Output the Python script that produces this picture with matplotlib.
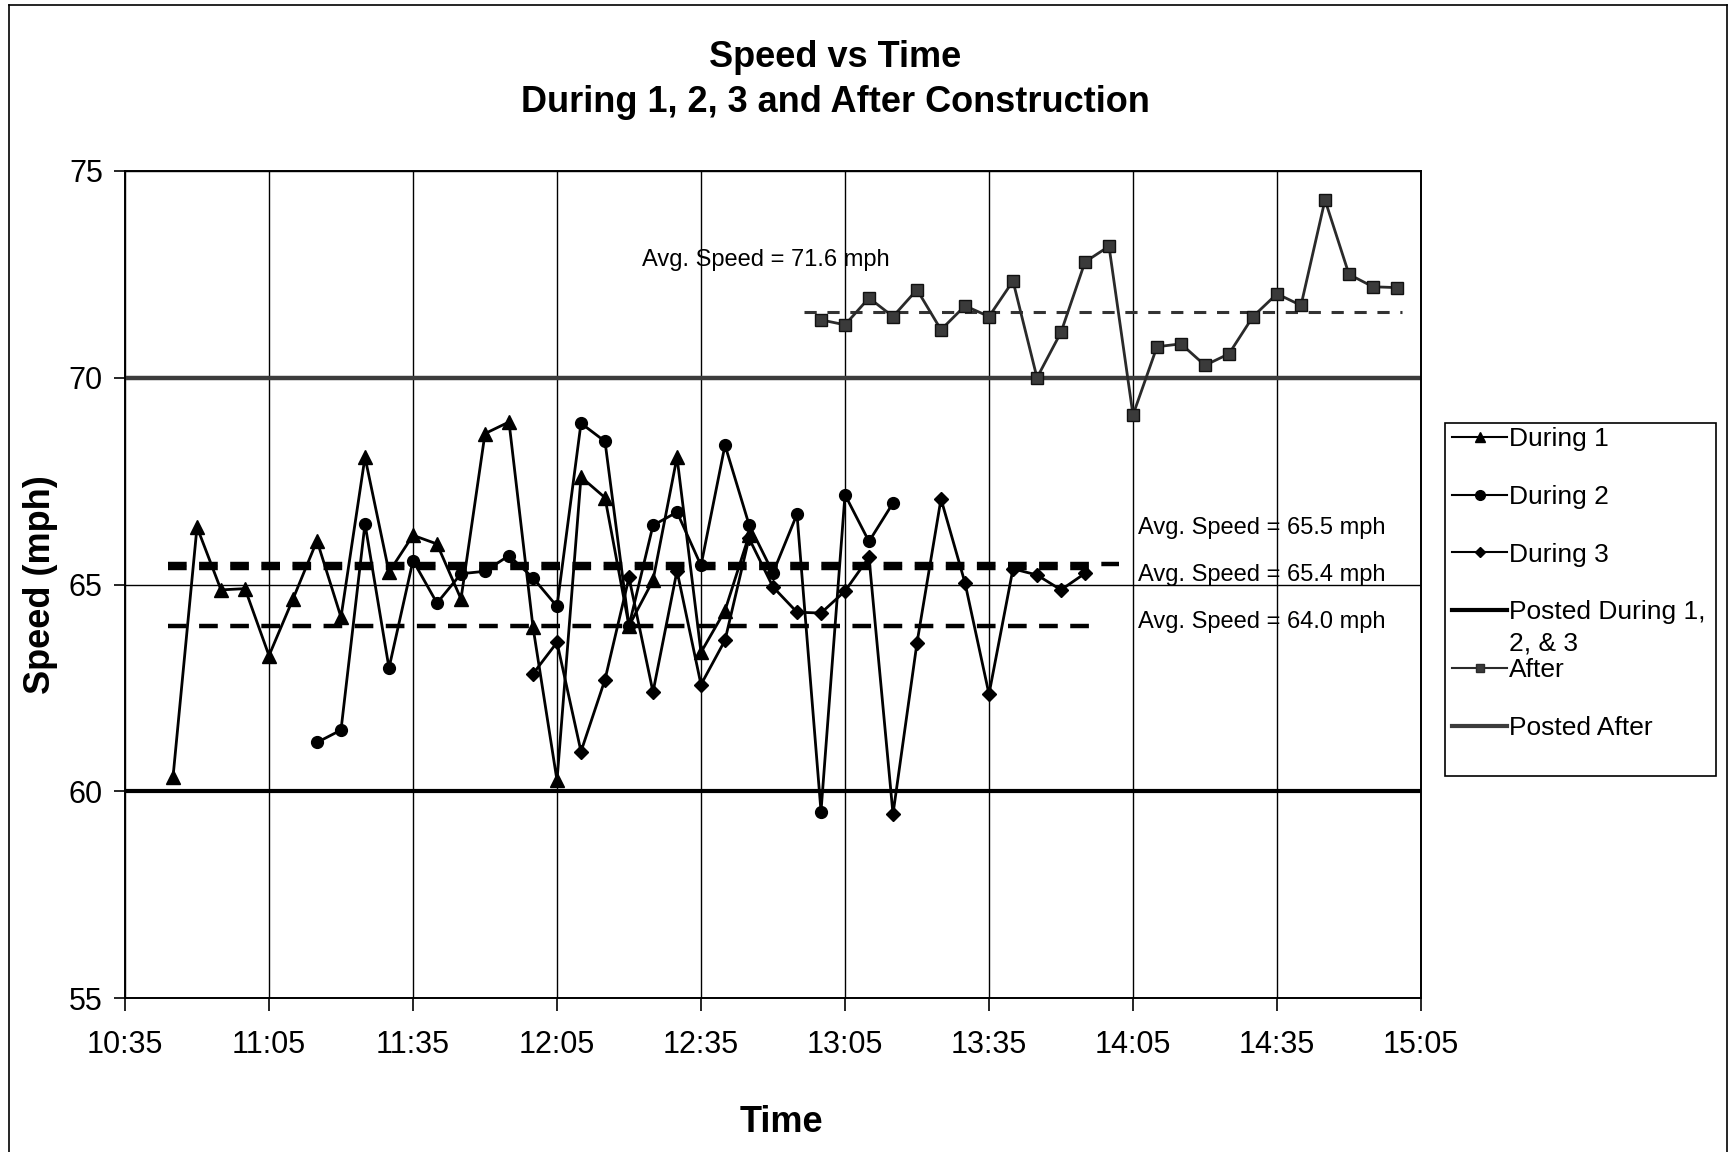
import numpy as np
import matplotlib
matplotlib.use('Agg')
import matplotlib.pyplot as plt
from matplotlib.lines import Line2D
from matplotlib.patches import Rectangle
from matplotlib.ticker import FuncFormatter

plt.rcParams['font.family'] = ['Liberation Sans', 'DejaVu Sans']
plt.rcParams['axes.linewidth'] = 1.4

# speed readings (mph) by time of day
during1_time = ['10:45', '10:50', '10:55', '11:00', '11:05', '11:10', '11:15', '11:20',
                '11:25', '11:30', '11:35', '11:40', '11:45', '11:50', '11:55', '12:00',
                '12:05', '12:10', '12:15', '12:20', '12:25', '12:30', '12:35', '12:40',
                '12:45']
during1_speed = [60.34, 66.39, 64.87, 64.90, 63.28, 64.65, 66.06, 64.21,
                 68.08, 65.30, 66.19, 65.98, 64.65, 68.65, 68.93, 63.97,
                 60.26, 67.60, 67.10, 64.00, 65.10, 68.08, 63.36, 64.37,
                 66.19]

during2_time = ['11:15', '11:20', '11:25', '11:30', '11:35', '11:40', '11:45', '11:50',
                '11:55', '12:00', '12:05', '12:10', '12:15', '12:20', '12:25', '12:30',
                '12:35', '12:40', '12:45', '12:50', '12:55', '13:00', '13:05', '13:10',
                '13:15']
during2_speed = [61.18, 61.48, 66.47, 62.98, 65.58, 64.55, 65.26, 65.32,
                 65.70, 65.16, 64.47, 68.90, 68.46, 64.00, 66.43, 66.75,
                 65.46, 68.37, 66.45, 65.28, 66.70, 59.51, 67.17, 66.04,
                 66.97]

during3_time = ['12:00', '12:05', '12:10', '12:15', '12:20', '12:25', '12:30', '12:35',
                '12:40', '12:45', '12:50', '12:55', '13:00', '13:05', '13:10', '13:15',
                '13:20', '13:25', '13:30', '13:35', '13:40', '13:45', '13:50', '13:55']
during3_speed = [62.84, 63.60, 60.96, 62.70, 65.17, 62.40, 65.33, 62.58,
                 63.65, 66.12, 64.94, 64.33, 64.31, 64.84, 65.66, 59.45,
                 63.59, 67.07, 65.04, 62.35, 65.38, 65.23, 64.87, 65.27]

after_time = ['13:00', '13:05', '13:10', '13:15', '13:20', '13:25', '13:30', '13:35',
              '13:40', '13:45', '13:50', '13:55', '14:00', '14:05', '14:10', '14:15',
              '14:20', '14:25', '14:30', '14:35', '14:40', '14:45', '14:50', '14:55',
              '15:00']
after_speed = [71.40, 71.28, 71.93, 71.48, 72.13, 71.16, 71.74, 71.48,
               72.34, 70.00, 71.10, 72.80, 73.18, 69.10, 70.75, 70.82,
               70.30, 70.58, 71.48, 72.03, 71.75, 74.30, 72.50, 72.20,
               72.18]

posted_during = 60
posted_after = 70
avg_during1 = 65.5
avg_during2 = 65.4
avg_during3 = 64.0
avg_after = 71.6


def to_min(s):
    h, m = s.split(':')
    return int(h) * 60 + int(m)


def fmt_time(x, pos):
    x = int(round(x))
    return '%d:%02d' % (x // 60, x % 60)


W, H = 1730, 1152
fig = plt.figure(figsize=(W / 100, H / 100), dpi=100)
ax = fig.add_axes([125 / W, 1 - 998 / H, 1296 / W, 827 / H])

t0, t1 = to_min('10:35'), to_min('15:05')
ax.set_xlim(t0, t1)
ax.set_ylim(55, 75)
ax.set_xticks(np.arange(t0, t1 + 1, 30))
ax.set_yticks([55, 60, 65, 70, 75])
ax.xaxis.set_major_formatter(FuncFormatter(fmt_time))
ax.tick_params(axis='x', direction='out', length=9, width=1.2, pad=14, labelsize=22)
ax.tick_params(axis='y', direction='out', length=8, width=1.2, pad=8, labelsize=22)
ax.grid(True, color='black', linewidth=1.0, zorder=0)
ax.set_axisbelow(True)

# posted limits
ax.axhline(posted_during, color='black', lw=3.0, zorder=2)
ax.axhline(posted_after, color='#3c3c3c', lw=3.2, zorder=2)

# average lines
dash_thick = (0, (4.2, 2.8))
ax.hlines(avg_during1, to_min('10:44'), to_min('14:02'), colors='black', lw=3.2,
          linestyles=[dash_thick], zorder=3)
ax.hlines(avg_during2, to_min('10:44'), to_min('13:58'), colors='black', lw=3.2,
          linestyles=[dash_thick], zorder=3)
ax.hlines(avg_during3, to_min('10:44'), to_min('13:58'), colors='black', lw=3.2,
          linestyles=[dash_thick], zorder=3)
ax.hlines(avg_after, to_min('12:56') + 0.5, to_min('15:01'), colors='#333333', lw=2.2,
          linestyles=[(0, (4, 3.5))], zorder=3)

# speed series
kw = dict(color='black', lw=2.0, zorder=4)
ax.plot([to_min(t) for t in during1_time], during1_speed, marker='^', ms=10.5, **kw)
ax.plot([to_min(t) for t in during2_time], during2_speed, marker='o', ms=8.5, **kw)
ax.plot([to_min(t) for t in during3_time], during3_speed, marker='D', ms=7, **kw)
ax.plot([to_min(t) for t in after_time], after_speed, color='#2a2a2a', lw=2.0,
        marker='s', ms=8, mfc='#3a3a3a', mec='#111111', zorder=4)

# average labels
ax.text(to_min('12:22') + 0.7, 72.85, 'Avg. Speed = %.1f mph' % avg_after,
        fontsize=17, va='center', ha='left')
ax.text(to_min('14:06'), 66.36, 'Avg. Speed = %.1f mph' % avg_during1,
        fontsize=17, va='center', ha='left')
ax.text(to_min('14:06'), 65.24, 'Avg. Speed = %.1f mph' % avg_during2,
        fontsize=17, va='center', ha='left')
ax.text(to_min('14:06'), 64.1, 'Avg. Speed = %.1f mph' % avg_during3,
        fontsize=17, va='center', ha='left')

# titles and axis labels
fig.text(835 / W, 1 - 80 / H, 'Speed vs Time\nDuring 1, 2, 3 and After Construction',
         ha='center', va='center', fontsize=26, fontweight='bold', linespacing=1.35)
fig.text(41 / W, 1 - 585 / H, 'Speed (mph)', rotation=90, ha='center', va='center',
         fontsize=26, fontweight='bold')
fig.text(781 / W, 1 - 1122 / H, 'Time', ha='center', va='center',
         fontsize=26, fontweight='bold')

# legend: entries without frame, box drawn separately
handles = [
    Line2D([], [], color='black', lw=1.5, marker='^', ms=7),
    Line2D([], [], color='black', lw=1.5, marker='o', ms=7),
    Line2D([], [], color='black', lw=1.5, marker='D', ms=5),
    Line2D([], [], color='black', lw=3.0),
    Line2D([], [], color='#2a2a2a', lw=1.5, marker='s', ms=6, mfc='#3a3a3a'),
    Line2D([], [], color='#3c3c3c', lw=3.0),
]
labels = ['During 1', 'During 2', 'During 3', 'Posted During 1,', 'After', 'Posted After']
leg = fig.legend(handles, labels, loc='upper left', bbox_to_anchor=(1452 / W, 1 - 427 / H),
                 fontsize=19, frameon=False, handlelength=2.1, handletextpad=0.05,
                 labelspacing=1.28, borderpad=0, borderaxespad=0)
fig.add_artist(Rectangle((1445 / W, 1 - 776 / H), 271 / W, 353 / H, transform=fig.transFigure,
                         fill=False, edgecolor='black', lw=1.2))

# second line of the posted-limit label sits under the first
fig.canvas.draw()
bb = leg.get_texts()[3].get_window_extent().transformed(fig.transFigure.inverted())
fig.text(bb.x0, bb.y0 - 31 / H, '2, & 3', fontsize=19, ha='left', va='bottom')

# outer frame of the sheet
for xs, ys in [([9 / W, 9 / W], [0, 1 - 5 / H]),
               ([9 / W, 1727 / W], [1 - 5 / H, 1 - 5 / H]),
               ([1727 / W, 1727 / W], [0, 1 - 5 / H])]:
    fig.add_artist(Line2D(xs, ys, color='black', lw=1.2))

fig.savefig('out.png', dpi=100)
